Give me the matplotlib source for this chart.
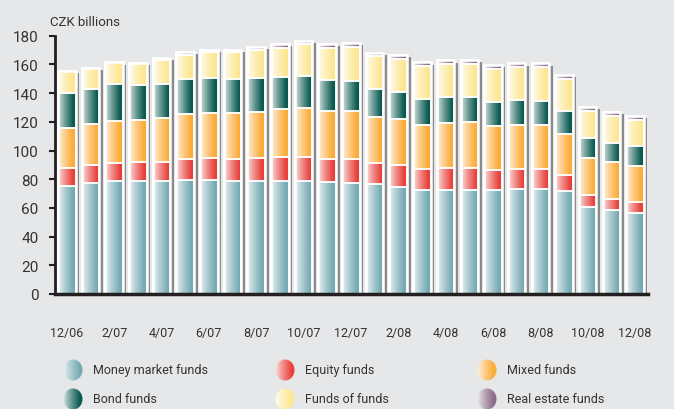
import numpy as np
import matplotlib.pyplot as plt
from matplotlib.patches import Rectangle, Ellipse
from matplotlib.colors import to_rgb

# === data (CZK billions) ===
months = ["12/06", "1/07", "2/07", "3/07", "4/07", "5/07", "6/07", "7/07", "8/07",
          "9/07", "10/07", "11/07", "12/07", "1/08", "2/08", "3/08", "4/08", "5/08",
          "6/08", "7/08", "8/08", "9/08", "10/08", "11/08", "12/08"]
money_market = [75.5, 77.1, 79.0, 78.5, 78.7, 79.7, 79.4, 79.0, 78.5, 79.0, 78.5, 78.0, 77.1,
                76.4, 74.6, 72.5, 72.7, 72.2, 72.7, 73.4, 72.9, 71.5, 60.6, 58.5, 56.2]
equity = [12.3, 12.8, 12.5, 13.3, 13.5, 14.1, 15.1, 14.8, 16.0, 16.7, 17.2, 16.1, 17.0,
          14.9, 15.3, 14.4, 14.9, 15.4, 13.7, 13.7, 14.2, 11.4, 8.2, 7.7, 7.7]
mixed = [28.1, 28.3, 28.8, 29.2, 30.4, 31.4, 31.6, 32.3, 32.6, 33.2, 33.9, 33.2, 33.7,
         31.8, 32.1, 31.1, 31.6, 32.3, 30.4, 30.4, 30.4, 28.6, 26.2, 25.6, 25.3]
bond = [24.4, 24.9, 25.8, 24.4, 24.0, 24.4, 24.2, 23.5, 23.2, 22.6, 22.5, 21.6, 20.9,
        19.8, 19.0, 18.1, 17.8, 17.1, 17.2, 17.5, 17.0, 16.3, 13.7, 13.7, 13.7]
funds_of_funds = [14.9, 14.6, 15.3, 15.6, 16.5, 17.0, 18.3, 18.8, 19.5, 20.2, 21.9, 22.8, 23.7,
                  23.0, 23.0, 22.8, 23.3, 23.3, 22.8, 23.0, 23.5, 22.0, 19.1, 18.8, 18.6]
real_estate = [0, 0, 0, 0, 1.6, 1.8, 1.7, 1.6, 2.1, 2.5, 2.1, 2.5, 2.7,
               2.3, 2.6, 2.5, 2.5, 2.8, 2.8, 2.7, 2.7, 2.8, 2.5, 2.3, 2.8]

series = [money_market, equity, mixed, bond, funds_of_funds, real_estate]
names = ["Money market funds", "Equity funds", "Mixed funds",
         "Bond funds", "Funds of funds", "Real estate funds"]
colors = ["#76aab3", "#e8403a", "#fbab38", "#0a5a50", "#fde690", "#8a6a88"]

bg = "#e6e7e8"
txt = "#333333"
plt.rcParams['font.family'] = ['Roboto', 'DejaVu Sans']


def gradient(color, n=64):
    # white on the left, full colour on the right
    c = np.array(to_rgb(color))
    t = np.linspace(0, 1, n)
    f = 0.1 + 0.9 * np.clip(t / 0.85, 0, 1) ** 0.8
    img = (1 - f)[:, None] + f[:, None] * c
    return img[None, :, :]


fig = plt.figure(figsize=(6.74, 4.1), dpi=100, facecolor=bg)
ax = fig.add_axes([55 / 674, 115 / 410, 593 / 674, 258.3 / 410])
ax.set_facecolor(bg)

x = np.arange(len(months))
w = 0.74
for i in x:
    bottom = 0
    for s, col in zip(series, colors):
        v = s[i]
        if v <= 0:
            continue
        ax.imshow(gradient(col), extent=(i - w / 2, i + w / 2, bottom, bottom + v),
                  aspect='auto', interpolation='bilinear', zorder=2)
        ax.add_patch(Rectangle((i - w / 2, bottom), w, v, fill=False,
                               ec="white", lw=1.1, zorder=3))
        bottom += v
    # outer white frame + drop shadow
    ax.add_patch(Rectangle((i - w / 2, 0), w, bottom, fill=False,
                           ec="white", lw=1.8, zorder=3))
    ax.add_patch(Rectangle((i + w / 2, 0), 0.15, bottom - 1.5,
                           fc="#8a8a8a", ec="none", zorder=1))

ax.set_xlim(-0.5, 24.55)
ax.set_ylim(0, 180)
ax.set_yticks(np.arange(0, 181, 20))
ax.set_xticks(x[::2])
ax.set_xticklabels(months[::2])
ax.tick_params(axis='y', length=4, width=1.5, color="#231f20", pad=8,
               labelsize=11, labelcolor=txt)
ax.tick_params(axis='x', length=0, pad=23, labelsize=9, labelcolor=txt)
for side in ["top", "right"]:
    ax.spines[side].set_visible(False)
ax.spines["left"].set_linewidth(2)
ax.spines["left"].set_color("#231f20")
ax.spines["bottom"].set_linewidth(2.5)
ax.spines["bottom"].set_color("#231f20")
ax.spines["bottom"].set_zorder(4)

# === overlay in pixel coords for unit label and legend ===
ov = fig.add_axes([0, 0, 1, 1])
ov.set_xlim(0, 674)
ov.set_ylim(410, 0)
ov.axis("off")
ov.patch.set_alpha(0)

ov.text(50, 23, "CZK billions", fontsize=9.5, color=txt, va="center", ha="left")

leg_x = [73, 285, 487]
leg_y = [371, 400]
for k, (name, col) in enumerate(zip(names, colors)):
    cx = leg_x[k % 3]
    cy = leg_y[k // 3]
    im = ov.imshow(gradient(col), extent=(cx - 10, cx + 10, cy + 11, cy - 11),
                   aspect='auto', interpolation='bilinear', zorder=2)
    el = Ellipse((cx, cy), 19, 21, fc="none", ec="none")
    ov.add_patch(el)
    im.set_clip_path(el)
    ov.text(cx + 20, cy, name, fontsize=9, color=txt, va="center", ha="left")
ov.set_xlim(0, 674)
ov.set_ylim(410, 0)

fig.savefig("out.png", dpi=100, facecolor=bg)
